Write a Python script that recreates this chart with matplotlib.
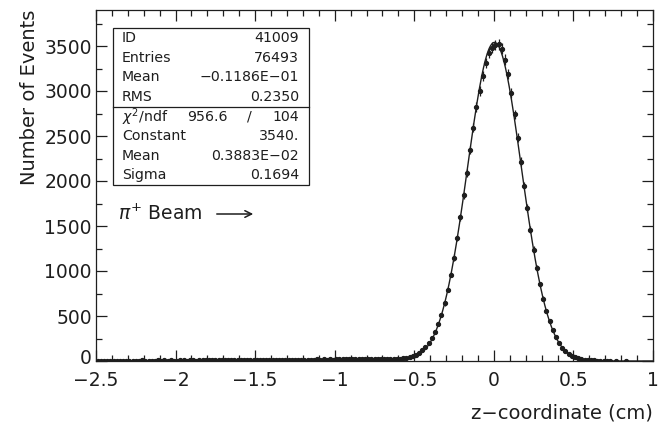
import matplotlib.pyplot as plt
import matplotlib.transforms as mtransforms
import numpy as np
from matplotlib.patches import Rectangle
from matplotlib.ticker import MultipleLocator

# histogram: 0.02 cm bins from -2.5 to 1.0
bin_lo = -2.5
bin_hi = 1.0
n_bins = 175

# counts per bin (left tail, core, right tail)
tail_left = [2, 3, 1, 4, 2, 3, 5, 2, 3, 4,
             3, 5, 4, 2, 6, 3, 4, 5, 3, 6,
             4, 6, 5, 7, 4, 5, 6, 8, 5, 6,
             7, 5, 8, 6, 7, 9, 6, 8, 7, 9,
             8, 10, 7, 9, 11, 8, 10, 9, 12, 10,
             11, 9, 12, 10, 13, 11, 12, 14, 10, 13,
             12, 14, 13, 15, 12, 16, 14, 13, 15, 17,
             15, 17, 14, 18, 16, 19, 17, 20, 18, 21,
             20, 22, 19, 23, 21, 24, 22, 25, 23, 24,
             24, 26, 25, 27, 26]
core = [26, 30, 36, 44, 55, 70, 90, 118, 152, 198,
        255, 325, 410, 512, 640, 790, 960, 1150, 1365, 1595,
        1840, 2090, 2343, 2590, 2820, 3000, 3170, 3310, 3420, 3480,
        3510, 3520, 3470, 3350, 3190, 2980, 2740, 2480, 2215, 1950,
        1700, 1460, 1238, 1035, 853, 694, 556, 440, 343, 265,
        200, 150, 112, 82, 60, 43, 31, 22, 16, 11,
        8, 6, 4, 3, 2]
tail_right = [1, 1, 0, 1, 0, 0, 1, 0, 0, 0, 0, 0, 0, 0, 0]

# fit results from the stats box
fit_const = 3540.
fit_mean = 0.3883E-02
fit_sigma = 0.1694

stat_names = ['ID', 'Entries', 'Mean', 'RMS']
stat_vals = ['41009', '76493', '\u22120.1186E\u221201', '0.2350']
fit_names = ['Constant', 'Mean', 'Sigma']
fit_vals = ['3540.', '0.3883E\u221202', '0.1694']

ink = '#1e1e1e'
plt.rcParams['font.family'] = 'DejaVu Sans'
plt.rcParams['axes.unicode_minus'] = True

counts = np.array(tail_left + core + tail_right, dtype=float)
edges = np.linspace(bin_lo, bin_hi, n_bins + 1)
centers = 0.5 * (edges[:-1] + edges[1:])
half_w = 0.5 * (edges[1] - edges[0])

fig = plt.figure(figsize=(6.6, 4.32), dpi=100)
ax = fig.add_axes([96/660, 1 - 361/432, 557/660, 351/432])

m = counts > 0
ax.errorbar(centers[m], counts[m], yerr=np.sqrt(counts[m]), xerr=half_w,
            fmt='o', ms=2.8, color=ink, ecolor=ink, elinewidth=0.9,
            capsize=0, zorder=3)

# gaussian fit curve
xf = np.linspace(bin_lo, bin_hi, 1500)
yf = fit_const * np.exp(-0.5 * ((xf - fit_mean) / fit_sigma) ** 2)
ax.plot(xf, yf, color=ink, lw=1.0, zorder=2)

ax.set_xlim(bin_lo, bin_hi)
ax.set_ylim(0, 3900)
ax.set_xticks([-2.5, -2, -1.5, -1, -0.5, 0, 0.5, 1])
ax.set_xticklabels(['\u22122.5', '\u22122', '\u22121.5', '\u22121', '\u22120.5', '0', '0.5', '1'])
ax.set_yticks([0, 500, 1000, 1500, 2000, 2500, 3000, 3500])
ax.xaxis.set_minor_locator(MultipleLocator(0.1))
ax.yaxis.set_minor_locator(MultipleLocator(250))
ax.tick_params(which='both', direction='in', top=True, right=True,
               color=ink, width=0.9, labelsize=13.5, labelcolor=ink)
ax.tick_params(which='major', length=8)
ax.tick_params(which='minor', length=4)
ax.tick_params(axis='x', pad=7)
ax.tick_params(axis='y', pad=3)
for s in ax.spines.values():
    s.set_color(ink)
    s.set_linewidth(0.9)

# lift the "0" label a little so it clears "-2.5"
lab0 = ax.get_yticklabels()[0]
lab0.set_transform(lab0.get_transform() + mtransforms.ScaledTranslation(0, 3/72, fig.dpi_scale_trans))

ax.set_xlabel('z\u2212coordinate (cm)', fontsize=14, color=ink, loc='right', labelpad=10)
ax.set_ylabel('Number of Events', fontsize=14, color=ink, loc='top', labelpad=4)

# stats box (pixel positions -> axes fraction)
def fy(py):
    return 1 - (py - 10) / 351

def fx(px):
    return (px - 96) / 557

ax.add_patch(Rectangle((fx(113), fy(185)), fx(309) - fx(113), fy(28) - fy(185),
                       transform=ax.transAxes, fill=True, facecolor='white',
                       edgecolor=ink, lw=0.9, zorder=4))
ax.plot([fx(113), fx(309)], [fy(107), fy(107)], transform=ax.transAxes,
        color=ink, lw=0.9, zorder=5)

fs = 10.2
top_rows = [37.9, 57.6, 77.4, 97.1]
for name, val, py in zip(stat_names, stat_vals, top_rows):
    ax.text(fx(122), fy(py), name, transform=ax.transAxes, fontsize=fs,
            va='center', ha='left', color=ink, zorder=6)
    ax.text(fx(299), fy(py), val, transform=ax.transAxes, fontsize=fs,
            va='center', ha='right', color=ink, zorder=6)

bot_rows = [116.8, 136.3, 155.8, 175.3]
ax.text(fx(122), fy(bot_rows[0]), r'$\chi^2$/ndf', transform=ax.transAxes,
        fontsize=fs, va='center', ha='left', color=ink, zorder=6)
ax.text(fx(228), fy(bot_rows[0]), '956.6', transform=ax.transAxes,
        fontsize=fs, va='center', ha='right', color=ink, zorder=6)
ax.text(fx(249), fy(bot_rows[0]), '/', transform=ax.transAxes,
        fontsize=fs, va='center', ha='center', color=ink, zorder=6)
ax.text(fx(299), fy(bot_rows[0]), '104', transform=ax.transAxes,
        fontsize=fs, va='center', ha='right', color=ink, zorder=6)
for name, val, py in zip(fit_names, fit_vals, bot_rows[1:]):
    ax.text(fx(122), fy(py), name, transform=ax.transAxes, fontsize=fs,
            va='center', ha='left', color=ink, zorder=6)
    ax.text(fx(299), fy(py), val, transform=ax.transAxes, fontsize=fs,
            va='center', ha='right', color=ink, zorder=6)

ax.text(fx(118), fy(214), r'$\pi^{+}$ Beam', transform=ax.transAxes,
        fontsize=13.5, va='center', ha='left', color=ink)
ax.annotate('', xy=(fx(256), fy(214)), xytext=(fx(214), fy(214)),
            xycoords='axes fraction', textcoords='axes fraction',
            arrowprops=dict(arrowstyle='->', color=ink, lw=1.1,
                            mutation_scale=12))

fig.savefig('out.png', dpi=100)
